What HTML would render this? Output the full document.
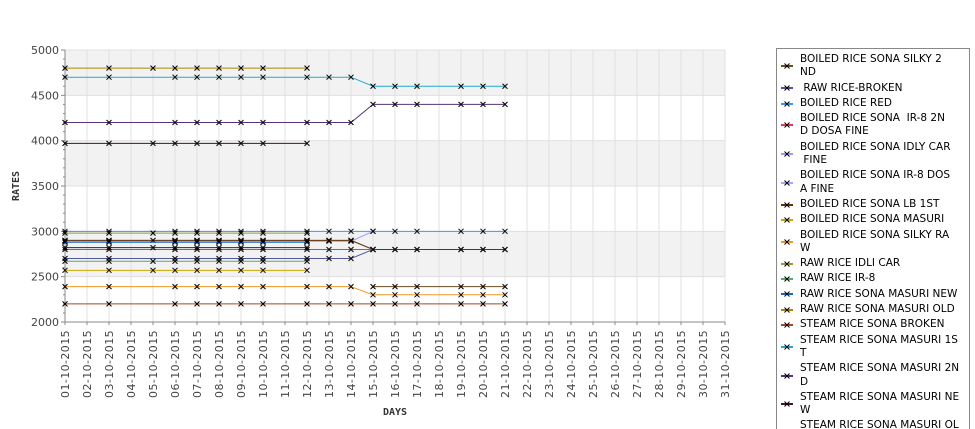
<!DOCTYPE html>
<html><head><meta charset="utf-8"><style>
html,body{margin:0;background:#fff;width:975px;height:429px;overflow:hidden;position:relative;font-family:"DejaVu Sans","Liberation Sans",sans-serif}
#legend{position:absolute;left:776px;top:48px;width:194px;height:420px;border:1px solid #888;box-sizing:border-box;padding-top:3px;font-size:10.5px;color:#000;overflow:hidden}
.le{display:flex;align-items:center;padding:1px 0;line-height:13.3px}
.le svg{flex:none;margin:0 7px 0 4px}
</style></head><body>
<svg id="chart" width="770" height="429" style="position:absolute;left:0;top:0"></svg>
<div id="legend"></div>
<script>
const days=[1,3,5,6,7,8,9,10,12,13,14,15,16,17,19,20,21];
const dateLabels=[];for(let d=1;d<=31;d++)dateLabels.push((d<10?'0':'')+d+'-10-2015');
const yTicks=[2000,2500,3000,3500,4000,4500,5000];
const N=null;
const seriesNames=["BOILED RICE SONA SILKY 2ND","RAW RICE-BROKEN","BOILED RICE RED","BOILED RICE SONA  IR-8 2ND DOSA FINE","BOILED RICE SONA IDLY CAR FINE","BOILED RICE SONA IR-8 DOSA FINE","BOILED RICE SONA LB 1ST","BOILED RICE SONA MASURI","BOILED RICE SONA SILKY RAW","RAW RICE IDLI CAR","RAW RICE IR-8","RAW RICE SONA MASURI NEW","RAW RICE SONA MASURI OLD","STEAM RICE SONA BROKEN","STEAM RICE SONA MASURI 1ST","STEAM RICE SONA MASURI 2ND","STEAM RICE SONA MASURI NEW","STEAM RICE SONA MASURI OLD"];
const legendLines=[["BOILED RICE SONA SILKY 2","ND"],[" RAW RICE-BROKEN"],["BOILED RICE RED"],["BOILED RICE SONA  IR-8 2N","D DOSA FINE"],["BOILED RICE SONA IDLY CAR"," FINE"],["BOILED RICE SONA IR-8 DOS","A FINE"],["BOILED RICE SONA LB 1ST"],["BOILED RICE SONA MASURI"],["BOILED RICE SONA SILKY RA","W"],["RAW RICE IDLI CAR"],["RAW RICE IR-8"],["RAW RICE SONA MASURI NEW"],["RAW RICE SONA MASURI OLD"],["STEAM RICE SONA BROKEN"],["STEAM RICE SONA MASURI 1S","T"],["STEAM RICE SONA MASURI 2N","D"],["STEAM RICE SONA MASURI NE","W"],["STEAM RICE SONA MASURI OL","D"]];
const colors=["#6b4a1e","#55559a","#3399ff","#ee3355","#9999ff","#99aaff","#663300","#ccaa00","#ee9922","#999933","#55aa66","#1166cc","#aa8800","#aa4422","#22aacc","#553377","#441133","#332233"];
const s0=[N,N,N,N,N,N,N,N,N,N,N,2390,2390,2390,2390,2390,2390];
const s1=[2700,2700,N,2700,2700,2700,2700,2700,2700,2700,2700,2800,N,N,N,N,N];
const s2=[3000,3000,N,3000,3000,3000,3000,3000,3000,3000,3000,3000,3000,3000,3000,3000,3000];
const s3=[2800,2800,N,2800,2800,2800,2800,2800,2800,2800,2800,2800,2800,2800,2800,2800,2800];
const s4=[2890,2890,N,2890,2890,2890,2890,2890,2890,2890,2890,3000,N,N,N,N,N];
const s5=[2900,2900,N,2900,2900,2900,2900,2900,2900,2900,2900,2800,N,N,N,N,N];
const s6=[2900,2900,2900,2900,2900,2900,2900,2900,2900,2900,2900,2800,2800,2800,2800,2800,2800];
const s7=[2570,2570,2570,2570,2570,2570,2570,2570,2570,N,N,N,N,N,N,N,N];
const s8=[2390,2390,N,2390,2390,2390,2390,2390,2390,2390,2390,2300,2300,2300,2300,2300,2300];
const s9=[2980,2980,2980,2980,2980,2980,2980,2980,2980,N,N,N,N,N,N,N,N];
const s10=[2670,2670,2670,2670,2670,2670,2670,2670,2670,N,N,N,N,N,N,N,N];
const s11=[2880,2880,N,2880,2880,2880,2880,2880,2880,N,N,N,N,N,N,N,N];
const s12=[4800,4800,4800,4800,4800,4800,4800,4800,4800,N,N,N,N,N,N,N,N];
const s13=[2200,2200,N,2200,2200,2200,2200,2200,2200,2200,2200,2200,2200,2200,2200,2200,2200];
const s14=[4700,4700,N,4700,4700,4700,4700,4700,4700,4700,4700,4600,4600,4600,4600,4600,4600];
const s15=[4200,4200,N,4200,4200,4200,4200,4200,4200,4200,4200,4400,4400,4400,4400,4400,4400];
const s16=[3970,3970,3970,3970,3970,3970,3970,3970,3970,N,N,N,N,N,N,N,N];
const s17=[2820,2820,2820,2820,2820,2820,2820,2820,2820,N,N,N,N,N,N,N,N];
const seriesValues=[s0,s1,s2,s3,s4,s5,s6,s7,s8,s9,s10,s11,s12,s13,s14,s15,s16,s17];

const X0=65,X1=725,Y0=322,Y1=50;
const xs=d=>X0+(d-1)*(X1-X0)/30;
const ys=v=>Y0-(v-2000)*(Y0-Y1)/3000;
const NS="http://www.w3.org/2000/svg";
const svg=document.getElementById('chart');
function mk(t,a,p){const e=document.createElementNS(NS,t);for(const k in a)e.setAttribute(k,a[k]);(p||svg).appendChild(e);return e;}
for(let i=0;i<yTicks.length-1;i++){
 const r=mk('rect',{x:X0,y:ys(yTicks[i+1]),width:X1-X0,height:ys(yTicks[i])-ys(yTicks[i+1]),fill:(i%2==0)?'#fff':'#f2f2f2'});
 
 
}
for(let d=1;d<=31;d++){
 const g=mk('line',{x1:xs(d),x2:xs(d),y1:Y1,y2:Y0,stroke:'#e0e0e0','stroke-width':1});
 
 
}
for(const v of yTicks){
 const g=mk('line',{x1:X0,x2:X1,y1:ys(v),y2:ys(v),stroke:'#e0e0e0'});
 
 
}
const ya=mk('line',{x1:X0,x2:X0,y1:Y1,y2:Y0,stroke:'#888'});


const xa=mk('line',{x1:X0,x2:X1,y1:Y0,y2:Y0,stroke:'#888'});


for(let v=2000;v<=5000;v+=100){
 mk('line',{x1:v%500==0?X0-4:X0-2,x2:X0,y1:ys(v),y2:ys(v),stroke:'#888'});
}
for(const v of yTicks){
 const t=mk('text',{x:X0-6,y:ys(v)+4,'text-anchor':'end','font-size':11,fill:'#444'});
 t.textContent=v;
 
 
}
dateLabels.forEach((lab,i)=>{
 const x=xs(i+1);
 mk('line',{x1:x,x2:x,y1:Y0,y2:Y0+3,stroke:'#888'});
 const t=mk('text',{transform:`translate(${x+4},${Y0+8}) rotate(-90)`,'text-anchor':'end','font-size':11,fill:'#444','letter-spacing':'0.4'});
 t.textContent=lab;
 
 
});
const xt=mk('text',{x:395,y:415,'text-anchor':'middle','font-size':10,'font-weight':'bold',fill:'#333','font-family':'DejaVu Sans Mono, monospace'});
xt.textContent='DAYS';


const yt=mk('text',{transform:'translate(19,186) rotate(-90)','text-anchor':'middle','font-size':10,'font-weight':'bold',fill:'#333','font-family':'DejaVu Sans Mono, monospace'});
yt.textContent='RATES';


seriesValues.forEach((vals,si)=>{
 const g=mk('g',{});
 
 
 let pts=[];
 vals.forEach((v,i)=>{if(v!==null)pts.push([xs(days[i]),ys(v)]);});
 const p=mk('polyline',{points:pts.map(p=>p.join(',')).join(' '),fill:'none',stroke:colors[si],'stroke-width':1},g);
 
 
 pts.forEach(([x,y])=>{
  const m=mk('path',{d:`M${x-2.5},${y-2.5}L${x+2.5},${y+2.5}M${x-2.5},${y+2.5}L${x+2.5},${y-2.5}`,stroke:'#000','stroke-width':1},g);
  
  
 });
});
const L=document.getElementById('legend');
legendLines.forEach((lines,i)=>{
 const e=document.createElement('div');e.className='le';
 
 
 e.innerHTML=`<svg width="12" height="8"><line x1="0" y1="4" x2="12" y2="4" stroke="${colors[i]}" stroke-width="2"/><path d="M3.5,1.5L8.5,6.5M3.5,6.5L8.5,1.5" stroke="#000"/></svg><span style="white-space:pre">${lines.join('<br>')}</span>`;
 L.appendChild(e);
});
</script>
</body></html>
